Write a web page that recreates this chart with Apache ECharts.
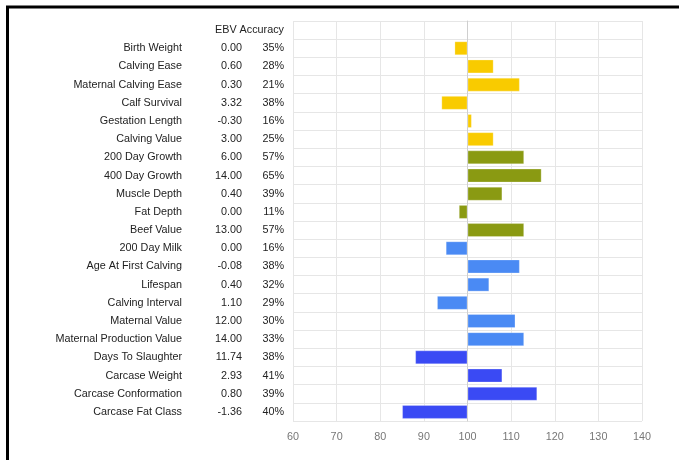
<!DOCTYPE html>
<html>
<head>
<meta charset="utf-8">
<script src="https://cdn.jsdelivr.net/npm/echarts@6/dist/echarts.min.js"></script>
<style>html,body{margin:0;padding:0;background:#fff;}#c{width:679px;height:460px;}</style>
</head>
<body>
<div id="c"></div>
<script>
var traitNames = ['Birth Weight','Calving Ease','Maternal Calving Ease','Calf Survival','Gestation Length','Calving Value','200 Day Growth','400 Day Growth','Muscle Depth','Fat Depth','Beef Value','200 Day Milk','Age At First Calving','Lifespan','Calving Interval','Maternal Value','Maternal Production Value','Days To Slaughter','Carcase Weight','Carcase Conformation','Carcase Fat Class'];
var ebvValues = ['0.00','0.60','0.30','3.32','-0.30','3.00','6.00','14.00','0.40','0.00','13.00','0.00','-0.08','0.40','1.10','12.00','14.00','11.74','2.93','0.80','-1.36'];
var accuracyValues = ['35%','28%','21%','38%','16%','25%','57%','65%','39%','11%','57%','16%','38%','32%','29%','30%','33%','38%','41%','39%','40%'];
var indexValues = [97,106,112,94,101,106,113,117,108,98,113,95,112,105,93,111,113,88,108,116,85];
var groupOf = [0,0,0,0,0,0,1,1,1,1,1,2,2,2,2,2,2,3,3,3,3];
var groupColors = ['#F9CB00','#8A9A12','#4A8AF4','#3A4AF4'];
var baseline = 100;
var xTicks = {min: 60, max: 140, interval: 10};
var headerText = 'EBV Accuracy';

var font = "'Liberation Sans', Arial, sans-serif";
var fs = 10.8;
var cats = [''].concat(traitNames);
var seriesData = ['-'].concat(indexValues.map(function (v, i) {
  return {value: v - baseline, itemStyle: {color: groupColors[groupOf[i]]}};
}));

var chart = echarts.init(document.getElementById('c'));
chart.setOption({
  animation: false,
  textStyle: {fontFamily: font},
  grid: {left: 293, right: 37, top: 21, bottom: 39, containLabel: false},
  xAxis: {
    type: 'value',
    min: xTicks.min - baseline, max: xTicks.max - baseline, interval: xTicks.interval,
    axisLine: {show: false}, axisTick: {show: false},
    splitLine: {show: true, lineStyle: {color: '#e6e6e6', width: 1}},
    axisLabel: {color: '#777', fontSize: 10.8, fontFamily: font, margin: 11,
      formatter: function (v) { return String(v + baseline); }}
  },
  yAxis: {
    type: 'category', inverse: true, data: cats,
    axisTick: {show: false},
    axisLine: {show: true, onZero: true, lineStyle: {color: '#cfcfcf'}},
    splitLine: {show: true, lineStyle: {color: '#e6e6e6', width: 1}},
    axisLabel: {
      margin: 9, color: '#222', fontSize: fs, fontFamily: font,
      formatter: function (val, idx) {
        if (idx === 0) return '{h|' + headerText + '}';
        var i = idx - 1;
        return '{n|' + traitNames[i] + '}{e|' + ebvValues[i] + '}{a|' + accuracyValues[i] + '}';
      },
      rich: {
        h: {fontSize: fs, color: '#222', fontFamily: font, align: 'right'},
        n: {width: 175, align: 'right', fontSize: fs, color: '#222', fontFamily: font},
        e: {width: 60, align: 'right', fontSize: fs, color: '#222', fontFamily: font},
        a: {width: 42, align: 'right', fontSize: fs, color: '#222', fontFamily: font}
      }
    }
  },
  series: [{
    type: 'bar', data: seriesData, barWidth: 14,
    itemStyle: {borderColor: 'rgba(255,255,255,0.25)', borderWidth: 1}
  }],
  graphic: [
    {type: 'line', shape: {x1: 6, y1: 7, x2: 679, y2: 7}, style: {stroke: '#000', lineWidth: 3}, z: 100},
    {type: 'line', shape: {x1: 7.5, y1: 6, x2: 7.5, y2: 460}, style: {stroke: '#000', lineWidth: 3}, z: 100}
  ]
});
</script>
</body>
</html>
